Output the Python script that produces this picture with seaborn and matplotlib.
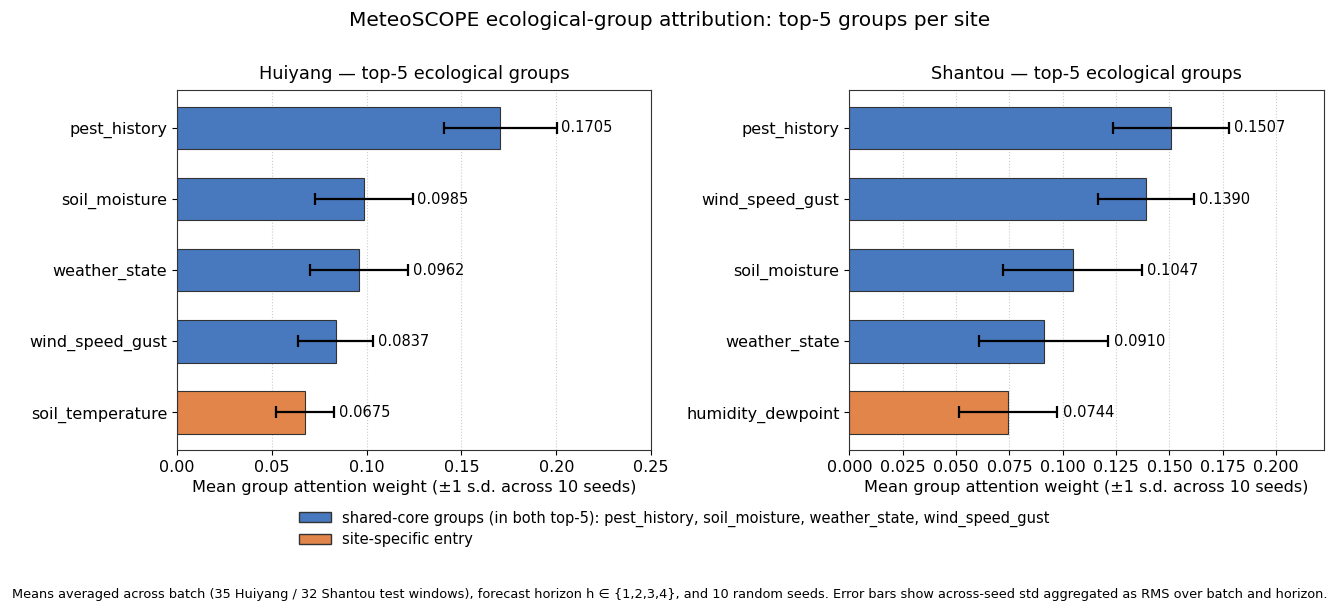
import numpy as np
import pandas as pd
import seaborn as sns
import matplotlib.pyplot as plt
from matplotlib.patches import Patch

# Huiyang top-5
hy_groups = ['pest_history', 'soil_moisture', 'weather_state', 'wind_speed_gust', 'soil_temperature']
hy_mean = [0.1705, 0.0985, 0.0962, 0.0837, 0.0675]
hy_sd = [0.0296, 0.0258, 0.0258, 0.0199, 0.0152]

# Shantou top-5
st_groups = ['pest_history', 'wind_speed_gust', 'soil_moisture', 'weather_state', 'humidity_dewpoint']
st_mean = [0.1507, 0.1390, 0.1047, 0.0910, 0.0744]
st_sd = [0.0272, 0.0223, 0.0325, 0.0303, 0.0230]

shared = ['pest_history', 'soil_moisture', 'weather_state', 'wind_speed_gust']
blue = '#4878bd'
orange = '#e1854a'

plt.rcParams['font.family'] = ['DejaVu Sans']

fig, axes = plt.subplots(1, 2, figsize=(13.4, 6.14), dpi=100)
fig.subplots_adjust(left=0.132, right=0.988, top=0.853, bottom=0.267, wspace=0.417)


def draw(ax, site, groups, mean, sd):
    df = pd.DataFrame({'group': groups, 'mean': mean, 'sd': sd})
    df['kind'] = ['shared' if g in shared else 'site' for g in groups]
    sns.barplot(data=df, y='group', x='mean', hue='kind',
                palette={'shared': blue, 'site': orange}, dodge=False,
                orient='h', width=0.6, saturation=1, edgecolor='#333333',
                linewidth=0.8, legend=False, ax=ax)
    ax.errorbar(df['mean'], np.arange(len(df)), xerr=df['sd'], fmt='none',
                ecolor='black', elinewidth=1.6, capsize=4, capthick=1.6)
    for i, (m, s) in enumerate(zip(df['mean'], df['sd'])):
        ax.text(m + s + 0.0025, i, f'{m:.4f}', va='center', ha='left', fontsize=10.5)
    ax.set_xlim(0, (df['mean'] + df['sd']).max() * 1.25)
    ax.set_ylim(len(df) - 0.47, -0.53)
    ax.set_ylabel('')
    ax.set_xlabel('Mean group attention weight (±1 s.d. across 10 seeds)', fontsize=11.6)
    ax.set_title(f'{site} — top-5 ecological groups', fontsize=12.8, pad=8)
    ax.tick_params(labelsize=11.5)
    ax.grid(axis='x', linestyle=':', color='#cccccc', linewidth=0.8)
    ax.set_axisbelow(True)
    for sp in ax.spines.values():
        sp.set_color('#333333')


draw(axes[0], 'Huiyang', hy_groups, hy_mean, hy_sd)
draw(axes[1], 'Shantou', st_groups, st_mean, st_sd)

fig.suptitle('MeteoSCOPE ecological-group attribution: top-5 groups per site', fontsize=14.5, y=0.982)

handles = [Patch(facecolor=blue, edgecolor='#333333',
                 label='shared-core groups (in both top-5): ' + ', '.join(shared)),
           Patch(facecolor=orange, edgecolor='#333333', label='site-specific entry')]
fig.legend(handles=handles, loc='upper left', bbox_to_anchor=(0.213, 0.19),
           frameon=False, fontsize=10.5, handlelength=2.2, labelspacing=0.35)

fig.text(0.5, 0.026, 'Means averaged across batch (35 Huiyang / 32 Shantou test windows), forecast horizon h ∈ {1,2,3,4}, '
         'and 10 random seeds. Error bars show across-seed std aggregated as RMS over batch and horizon.',
         ha='center', fontsize=9.3)

fig.savefig('out.png', dpi=100)
